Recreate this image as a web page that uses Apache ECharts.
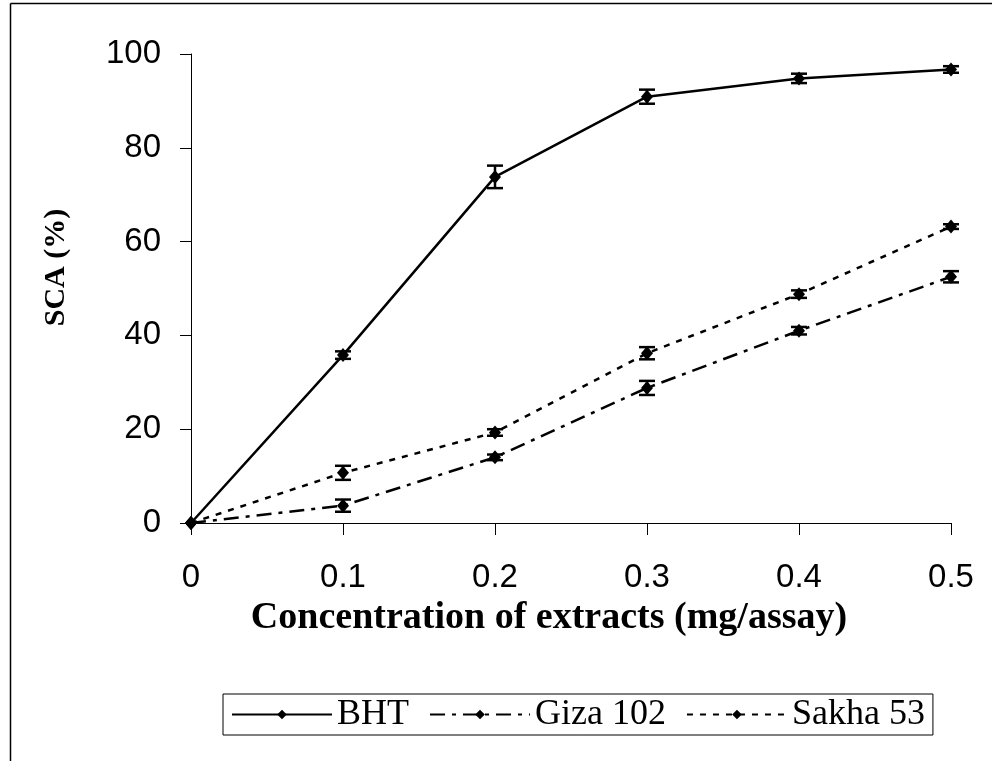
<!DOCTYPE html>
<html>
<head>
<meta charset="utf-8">
<script src="https://cdn.jsdelivr.net/npm/echarts@6/dist/echarts.min.js"></script>
<style>
  html, body { margin: 0; padding: 0; background: #fff; }
  #chart { width: 992px; height: 761px; }
</style>
</head>
<body>
<div id="chart"></div>
<script>
// values
const concentrations = [0, 0.1, 0.2, 0.3, 0.4, 0.5];
const seriesNames = ['BHT', 'Giza 102', 'Sakha 53'];
const bht = [0, 35.8, 73.8, 90.9, 94.8, 96.7];
const bhtErr = [0, 0.8, 2.4, 1.5, 1.0, 0.7];
const giza = [0, 3.7, 14.0, 28.8, 41.0, 52.5];
const gizaErr = [0, 1.3, 0.6, 1.5, 0.8, 1.2];
const sakha = [0, 10.7, 19.3, 36.2, 48.8, 63.2];
const sakhaErr = [0, 1.5, 0.7, 1.3, 0.8, 0.5];
const yTicks = [0, 20, 40, 60, 80, 100];

const chart = echarts.init(document.getElementById('chart'));

function points(vals) {
  return concentrations.map((c, i) => [c, vals[i]]);
}
function errPoints(vals, errs) {
  return concentrations.map((c, i) => [c, vals[i] - errs[i], vals[i] + errs[i]]);
}
function errSeries(vals, errs) {
  return {
    type: 'custom',
    silent: true,
    z: 3,
    data: errPoints(vals, errs),
    encode: { x: 0, y: [1, 2] },
    renderItem: function (params, api) {
      if (api.value(2) - api.value(1) <= 0) return null;
      const top = api.coord([api.value(0), api.value(2)]);
      const bot = api.coord([api.value(0), api.value(1)]);
      const w = 8;
      const st = { stroke: '#000', lineWidth: 2.5 };
      return {
        type: 'group',
        children: [
          { type: 'line', shape: { x1: top[0], y1: top[1], x2: bot[0], y2: bot[1] }, style: st },
          { type: 'line', shape: { x1: top[0] - w, y1: top[1], x2: top[0] + w, y2: top[1] }, style: st },
          { type: 'line', shape: { x1: bot[0] - w, y1: bot[1], x2: bot[0] + w, y2: bot[1] }, style: st }
        ]
      };
    }
  };
}
function lineSeries(name, vals, dash) {
  return {
    name: name,
    type: 'line',
    data: points(vals),
    symbol: 'diamond',
    symbolSize: [12, 14],
    showSymbol: true,
    z: 4,
    itemStyle: { color: '#000' },
    lineStyle: { color: '#000', width: 2.5, type: dash }
  };
}

chart.setOption({
  animation: false,
  backgroundColor: '#fff',
  grid: { left: 191, right: 41, top: 54, bottom: 238 },
  graphic: [
    { type: 'line', shape: { x1: 10.5, y1: 3.5, x2: 992, y2: 3.5 }, style: { stroke: '#000', lineWidth: 1.5 } },
    { type: 'line', shape: { x1: 10.5, y1: 3.5, x2: 10.5, y2: 761 }, style: { stroke: '#000', lineWidth: 1.5 } }
  ],
  legend: {
    data: seriesNames,
    left: 223,
    top: 694,
    orient: 'horizontal',
    selectedMode: false,
    itemWidth: 100,
    itemHeight: 12,
    itemGap: 20,
    padding: [2, 8],
    borderColor: '#000',
    borderWidth: 1,
    borderRadius: 0,
    textStyle: { fontFamily: 'Liberation Serif', fontSize: 36, color: '#000', lineHeight: 37 }
  },
  xAxis: {
    type: 'value',
    min: 0,
    max: 0.5,
    interval: 0.1,
    name: 'Concentration of extracts (mg/assay)',
    nameLocation: 'middle',
    nameGap: 72,
    nameTextStyle: { fontFamily: 'Liberation Serif', fontWeight: 'bold', fontSize: 38, color: '#000', padding: [0, 44, 0, 0] },
    axisLine: { lineStyle: { color: '#000', width: 1 } },
    axisTick: { show: true, length: 12, lineStyle: { color: '#000' } },
    axisLabel: { fontFamily: 'Liberation Sans', fontSize: 33, color: '#000', margin: 38 },
    splitLine: { show: false }
  },
  yAxis: {
    type: 'value',
    min: yTicks[0],
    max: yTicks[yTicks.length - 1],
    interval: 20,
    name: 'SCA (%)',
    nameLocation: 'middle',
    nameGap: 120,
    nameTextStyle: { fontFamily: 'Liberation Serif', fontWeight: 'bold', fontSize: 30, color: '#000', padding: [0, 0, 0, 42] },
    axisLine: { show: true, lineStyle: { color: '#000', width: 1 } },
    axisTick: { show: true, length: 11, lineStyle: { color: '#000' } },
    axisLabel: { fontFamily: 'Liberation Sans', fontSize: 33, color: '#000', margin: 30 },
    splitLine: { show: false }
  },
  series: [
    lineSeries(seriesNames[0], bht, 'solid'),
    lineSeries(seriesNames[1], giza, [15, 7, 4, 7]),
    lineSeries(seriesNames[2], sakha, [6, 7]),
    errSeries(bht, bhtErr),
    errSeries(giza, gizaErr),
    errSeries(sakha, sakhaErr)
  ]
});
</script>
</body>
</html>
